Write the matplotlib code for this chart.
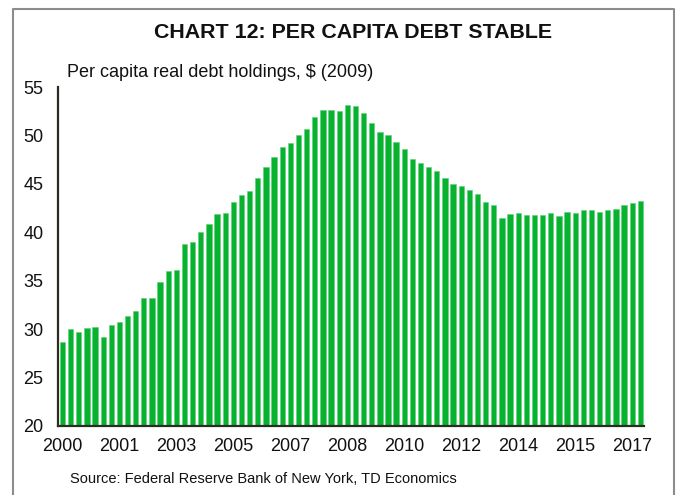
import matplotlib
matplotlib.use('Agg')
import matplotlib.pyplot as plt
from matplotlib.lines import Line2D

# quarterly per capita real debt holdings, 2000Q1 - 2017Q4
debt = [28.7, 30.0, 29.7, 30.1, 30.2, 29.2, 30.4, 30.7,
        31.4, 31.9, 33.2, 33.2, 34.9, 36.0, 36.1, 38.8,
        39.0, 40.0, 40.9, 41.9, 42.0, 43.1, 43.8, 44.3,
        45.6, 46.7, 47.8, 48.8, 49.2, 50.0, 50.7, 51.9,
        52.6, 52.6, 52.5, 53.1, 53.0, 52.3, 51.3, 50.4,
        50.0, 49.3, 48.6, 47.6, 47.2, 46.7, 46.3, 45.6,
        45.0, 44.8, 44.4, 44.0, 43.1, 42.8, 41.5, 41.9,
        42.0, 41.8, 41.8, 41.8, 42.0, 41.7, 42.1, 42.0,
        42.3, 42.3, 42.1, 42.3, 42.4, 42.8, 43.0, 43.2]
tick_pos = [0, 7, 14, 21, 28, 35, 42, 49, 56, 63, 70]
tick_labels = ['2000', '2001', '2003', '2005', '2007', '2008',
               '2010', '2012', '2014', '2015', '2017']

plt.rcParams['font.family'] = ['Liberation Sans', 'DejaVu Sans']

fig = plt.figure(figsize=(6.79, 4.95), dpi=100)
ax = fig.add_axes([0.0854, 0.1394, 0.863, 0.6848])

x = list(range(len(debt)))
ax.bar(x, debt, width=0.65, color='#06B22E', edgecolor='#5fd07a', linewidth=0.4)

ax.set_ylim(20, 55)
ax.set_xlim(-0.55, 71.45)
ax.set_yticks(range(20, 56, 5))
ax.set_xticks(tick_pos)
ax.set_xticklabels(tick_labels)
ax.tick_params(axis='both', length=0, labelsize=13, colors='#111111')
ax.tick_params(axis='y', pad=10.5)
ax.tick_params(axis='x', pad=9)

for side in ['top', 'right']:
    ax.spines[side].set_visible(False)
for side in ['left', 'bottom']:
    ax.spines[side].set_color('#2b2b22')
    ax.spines[side].set_linewidth(1.6)

fig.text(0.52, 0.934, 'CHART 12: PER CAPITA DEBT STABLE', ha='center', va='center',
         fontsize=15.4, fontweight='bold', color='#111111')
fig.text(0.0985, 0.853, 'Per capita real debt holdings, $ (2009)', ha='left', va='center',
         fontsize=13, color='#111111')
fig.text(0.103, 0.032, 'Source: Federal Reserve Bank of New York, TD Economics', ha='left',
         va='center', fontsize=10.5, color='#111111')

# frame around the chart panel (open at the bottom)
frame_x = [0.019, 0.019, 0.993, 0.993]
frame_y = [0.0, 0.981, 0.981, 0.0]
fig.add_artist(Line2D(frame_x, frame_y, transform=fig.transFigure, color='#8c8c8c', linewidth=1.5))

fig.savefig('out.png', dpi=100)
